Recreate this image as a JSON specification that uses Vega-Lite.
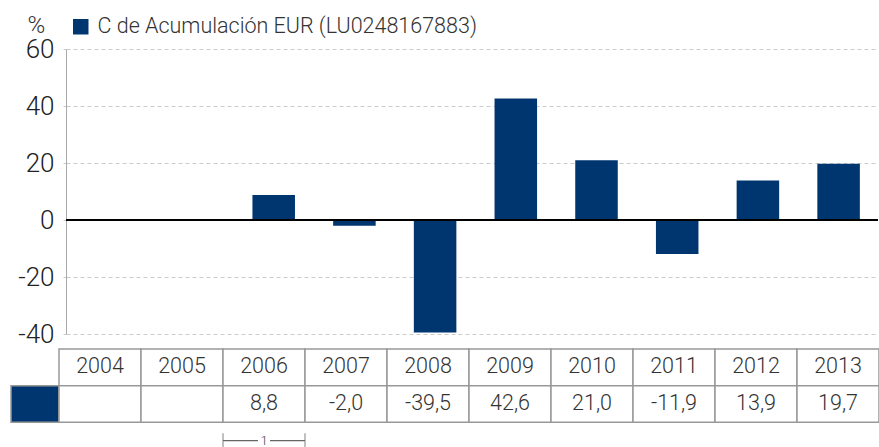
{
  "$schema": "https://vega.github.io/schema/vega-lite/v6.json",
  "padding": {"left": 10, "top": 13, "right": 0, "bottom": 0},
  "background": "white",
  "config": {"view": {"stroke": null}, "font": "Roboto"},
  "datasets": {
    "perf": [
      {"year": "2004", "value": null, "label": "", "series": "C de Acumulación EUR (LU0248167883)"},
      {"year": "2005", "value": null, "label": "", "series": "C de Acumulación EUR (LU0248167883)"},
      {"year": "2006", "value": 8.8, "label": "8,8", "series": "C de Acumulación EUR (LU0248167883)"},
      {"year": "2007", "value": -2.0, "label": "-2,0", "series": "C de Acumulación EUR (LU0248167883)"},
      {"year": "2008", "value": -39.5, "label": "-39,5", "series": "C de Acumulación EUR (LU0248167883)"},
      {"year": "2009", "value": 42.6, "label": "42,6", "series": "C de Acumulación EUR (LU0248167883)"},
      {"year": "2010", "value": 21.0, "label": "21,0", "series": "C de Acumulación EUR (LU0248167883)"},
      {"year": "2011", "value": -11.9, "label": "-11,9", "series": "C de Acumulación EUR (LU0248167883)"},
      {"year": "2012", "value": 13.9, "label": "13,9", "series": "C de Acumulación EUR (LU0248167883)"},
      {"year": "2013", "value": 19.7, "label": "19,7", "series": "C de Acumulación EUR (LU0248167883)"}
    ]
  },
  "columns": 1,
  "bounds": "full",
  "spacing": 1,
  "concat": [
    {
      "width": 812,
      "height": 285,
      "data": {"name": "perf"},
      "layer": [
        {
          "mark": {"type": "bar"},
          "encoding": {
            "x": {"field": "year", "type": "nominal", "sort": null,
              "scale": {"domain": ["2004","2005","2006","2007","2008","2009","2010","2011","2012","2013"], "paddingInner": 0.473, "paddingOuter": 0.2675, "align": 0.58},
              "axis": null},
            "y": {"field": "value", "type": "quantitative",
              "scale": {"domain": [-40, 60], "nice": false},
              "axis": {
                "title": "%", "titleAngle": 0, "titleAlign": "left", "titleBaseline": "alphabetic",
                "titleX": -39, "titleY": -17, "titleFontSize": 24, "titleFontWeight": 300, "titleColor": "#333",
                "values": [-40, -20, 0, 20, 40, 60], "labelExpr": "'' + datum.value",
                "labelFontSize": 26, "labelFontWeight": 300, "labelColor": "#222", "labelPadding": 9,
                "labelFlush": false, "labelOverlap": false,
                "tickSize": 3, "tickColor": "#ccc", "domainColor": "#aaa", "domainWidth": 1,
                "grid": true, "gridDash": [4, 3], "gridColor": "#ccc", "gridWidth": 1
              }},
            "color": {"field": "series", "type": "nominal", "scale": {"range": ["#003670"]},
              "legend": {"orient": "none", "legendX": 4, "legendY": -33, "title": null, "symbolType": "square",
                "symbolSize": 240, "symbolStrokeWidth": 0, "symbolOpacity": 1, "labelFontSize": 21.5, "labelFontWeight": 300,
                "labelColor": "#333", "labelOffset": 6, "padding": 0, "labelLimit": 600}}
          }
        },
        {
          "mark": {"type": "rule", "color": "black", "strokeWidth": 1.5},
          "encoding": {"y": {"datum": 0, "type": "quantitative"}}
        }
      ]
    },
    {
      "width": 812,
      "height": 98,
      "data": {"name": "perf"},
      "resolve": {"scale": {"x": "independent"}},
      "layer": [
        {
          "data": {"values": [{"cell": "legend"}]},
          "mark": {"type": "bar", "fill": "#003670", "stroke": "#999", "strokeWidth": 1.5},
          "encoding": {
            "x": {"field": "cell", "type": "nominal", "scale": {"domain": ["legend"], "range": [-55, -7], "paddingInner": 0, "paddingOuter": 0}, "axis": null},
            "y": {"datum": "value", "type": "nominal", "scale": {"domain": ["year","value","note"], "range": [0, 110], "paddingInner": 0, "paddingOuter": 0}, "axis": null}
          }
        },
        {
          "layer": [
            {
              "mark": {"type": "bar", "fill": "white", "stroke": "#999", "strokeWidth": 1.5},
              "encoding": {
                "x": {"field": "year", "type": "nominal", "sort": null, "scale": {"domain": ["2004","2005","2006","2007","2008","2009","2010","2011","2012","2013"], "range": [-7, 813], "paddingInner": 0, "paddingOuter": 0}, "axis": null},
                "y": {"datum": "year", "type": "nominal", "scale": {"domain": ["year","value","note"], "range": [0, 110], "paddingInner": 0, "paddingOuter": 0}, "axis": null}
              }
            },
            {
              "mark": {"type": "bar", "fill": "white", "stroke": "#999", "strokeWidth": 1.5},
              "encoding": {
                "x": {"field": "year", "type": "nominal", "sort": null, "axis": null},
                "y": {"datum": "value", "type": "nominal", "axis": null}
              }
            },
            {
              "mark": {"type": "text", "fontSize": 21.5, "fontWeight": 300, "color": "#333"},
              "encoding": {
                "x": {"field": "year", "type": "nominal", "sort": null, "axis": null},
                "y": {"datum": "year", "type": "nominal", "axis": null},
                "text": {"field": "year"}
              }
            },
            {
              "mark": {"type": "text", "fontSize": 21.5, "fontWeight": 300, "color": "#333"},
              "encoding": {
                "x": {"field": "year", "type": "nominal", "sort": null, "axis": null},
                "y": {"datum": "value", "type": "nominal", "axis": null},
                "text": {"field": "label"}
              }
            },
            {
              "data": {"values": [{"year": "2006", "note": "1"}]},
              "layer": [
                {
                  "mark": {"type": "bar", "height": 1.2, "fill": "#666"},
                  "encoding": {
                    "x": {"field": "year", "type": "nominal", "axis": null},
                    "y": {"datum": "note", "type": "nominal", "axis": null}
                  }
                },
                {
                  "mark": {"type": "bar", "width": 12, "height": 14, "fill": "white"},
                  "encoding": {
                    "x": {"field": "year", "type": "nominal", "axis": null},
                    "y": {"datum": "note", "type": "nominal", "axis": null}
                  }
                },
                {
                  "mark": {"type": "text", "fontSize": 13, "fontWeight": 300, "color": "#444"},
                  "encoding": {
                    "x": {"field": "year", "type": "nominal", "axis": null},
                    "y": {"datum": "note", "type": "nominal", "axis": null},
                    "text": {"field": "note"}
                  }
                },
                {
                  "mark": {"type": "tick", "orient": "vertical", "thickness": 1.2, "color": "#666"},
                  "encoding": {
                    "x": {"field": "year", "type": "nominal", "bandPosition": 0, "axis": null},
                    "y": {"datum": "note", "type": "nominal", "axis": null},
                    "size": {"value": 15}
                  }
                },
                {
                  "mark": {"type": "tick", "orient": "vertical", "thickness": 1.2, "color": "#666"},
                  "encoding": {
                    "x": {"field": "year", "type": "nominal", "bandPosition": 1, "axis": null},
                    "y": {"datum": "note", "type": "nominal", "axis": null},
                    "size": {"value": 15}
                  }
                }
              ]
            }
          ]
        }
      ]
    }
  ]
}
